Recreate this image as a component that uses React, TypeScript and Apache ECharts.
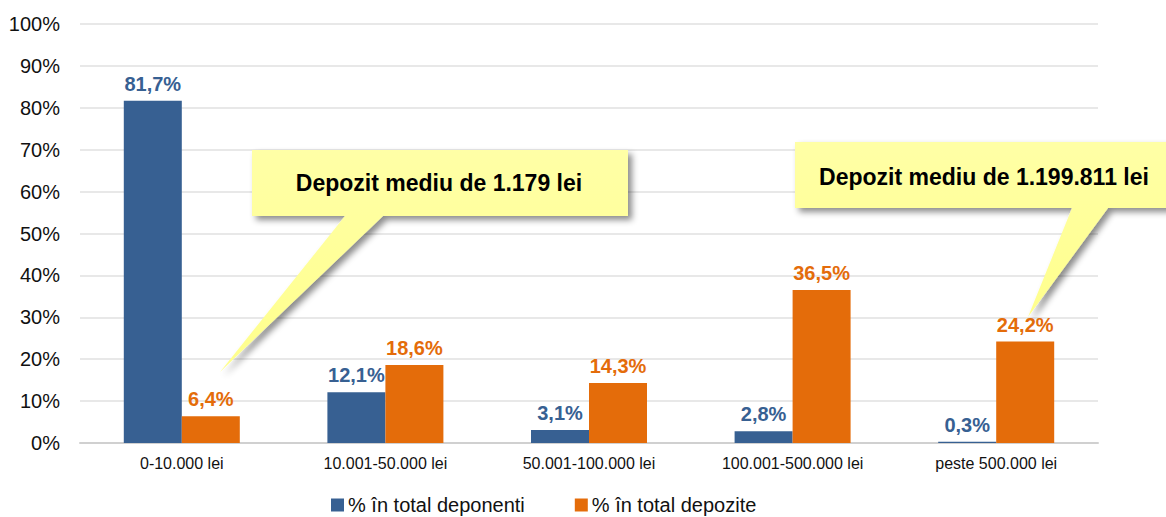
import React, { useEffect, useRef } from "react";
import * as echarts from "echarts";

const categories = ["0-10.000 lei", "10.001-50.000 lei", "50.001-100.000 lei", "100.001-500.000 lei", "peste 500.000 lei"];
const deponenti = [81.7, 12.1, 3.1, 2.8, 0.3];
const depozite = [6.4, 18.6, 14.3, 36.5, 24.2];
const seriesNames = ["% în total deponenti", "% în total depozite"];
const callout1 = "Depozit mediu de 1.179 lei";
const callout2 = "Depozit mediu de 1.199.811 lei";

const BLUE = "#376092";
const ORANGE = "#E46C0A";
const FONT = "'Liberation Sans', Arial, sans-serif";

const fmt = (v: number) => v.toFixed(1).replace(".", ",") + "%";

function calloutShape(x1: number, y1: number, x2: number, y2: number, b1: number, b2: number, tx: number, ty: number) {
  return [
    [x1, y1],
    [x2, y1],
    [x2, y2],
    [b2, y2],
    [tx, ty],
    [b1, y2],
    [x1, y2],
  ];
}

export default function App() {
  const ref = useRef<HTMLDivElement>(null);
  useEffect(() => {
    if (!ref.current) return;
    const chart = echarts.init(ref.current, null, { renderer: "svg" });
    const bubbleStyle = {
      fill: new echarts.graphic.LinearGradient(0, 0, 0, 1, [
        { offset: 0, color: "#FFFFA6" },
        { offset: 1, color: "#FFFF8C" },
      ]),
      shadowBlur: 6,
      shadowOffsetX: 4,
      shadowOffsetY: 4,
      shadowColor: "rgba(0,0,0,0.45)",
    };
    const labelCfg = (color: string) => ({
      show: true,
      position: "top",
      distance: 7,
      formatter: (p: any) => fmt(p.value),
      color,
      fontSize: 20,
      fontWeight: "bold",
      fontFamily: FONT,
    });
    chart.setOption({
      animation: false,
      grid: { left: 80, right: 68, top: 24, bottom: 74 },
      legend: {
        left: 331,
        top: 495,
        padding: 0,
        itemWidth: 13,
        itemHeight: 13,
        itemGap: 50,
        icon: "rect",
        textStyle: { fontSize: 20, color: "#111", fontFamily: FONT, padding: [0, 0, 0, -1] },
        data: seriesNames,
      },
      xAxis: {
        type: "category",
        data: categories,
        axisLine: { lineStyle: { color: "#d0d0d0", width: 2 } },
        axisTick: { show: false },
        axisLabel: { fontSize: 16, color: "#111", margin: 12, fontFamily: FONT },
      },
      yAxis: {
        type: "value",
        min: 0,
        max: 100,
        interval: 10,
        axisLabel: { formatter: "{value}%", fontSize: 20, color: "#111", margin: 20, fontFamily: FONT },
        splitLine: { lineStyle: { color: "#e0e0e0", width: 1.5 } },
        axisLine: { show: false },
        axisTick: { show: false },
      },
      series: [
        {
          name: seriesNames[0],
          type: "bar",
          data: deponenti,
          barWidth: 58,
          barGap: "0%",
          itemStyle: { color: BLUE },
          label: labelCfg(BLUE),
        },
        {
          name: seriesNames[1],
          type: "bar",
          data: depozite,
          barWidth: 58,
          barGap: "0%",
          itemStyle: { color: ORANGE },
          label: labelCfg(ORANGE),
        },
      ],
      graphic: [
        {
          type: "polygon",
          shape: { points: calloutShape(252, 150, 628, 216, 345, 383, 220, 372) },
          style: bubbleStyle,
          z: 100,
        },
        {
          type: "text",
          x: 439,
          y: 183,
          style: {
            text: callout1,
            fill: "#000",
            fontSize: 23,
            fontWeight: "bold",
            fontFamily: FONT,
            align: "center",
            verticalAlign: "middle",
          },
          z: 101,
        },
        {
          type: "polygon",
          shape: { points: calloutShape(795, 142, 1175, 208, 1072, 1108, 1028, 317) },
          style: bubbleStyle,
          z: 100,
        },
        {
          type: "text",
          x: 984,
          y: 177,
          style: {
            text: callout2,
            fill: "#000",
            fontSize: 23,
            fontWeight: "bold",
            fontFamily: FONT,
            align: "center",
            verticalAlign: "middle",
          },
          z: 101,
        },
      ],
    });
    return () => chart.dispose();
  }, []);
  return (
    <div
      ref={ref}
      style={{ position: "fixed", left: 0, top: 0, width: 1166, height: 517, background: "#fff" }}
    />
  );
}
